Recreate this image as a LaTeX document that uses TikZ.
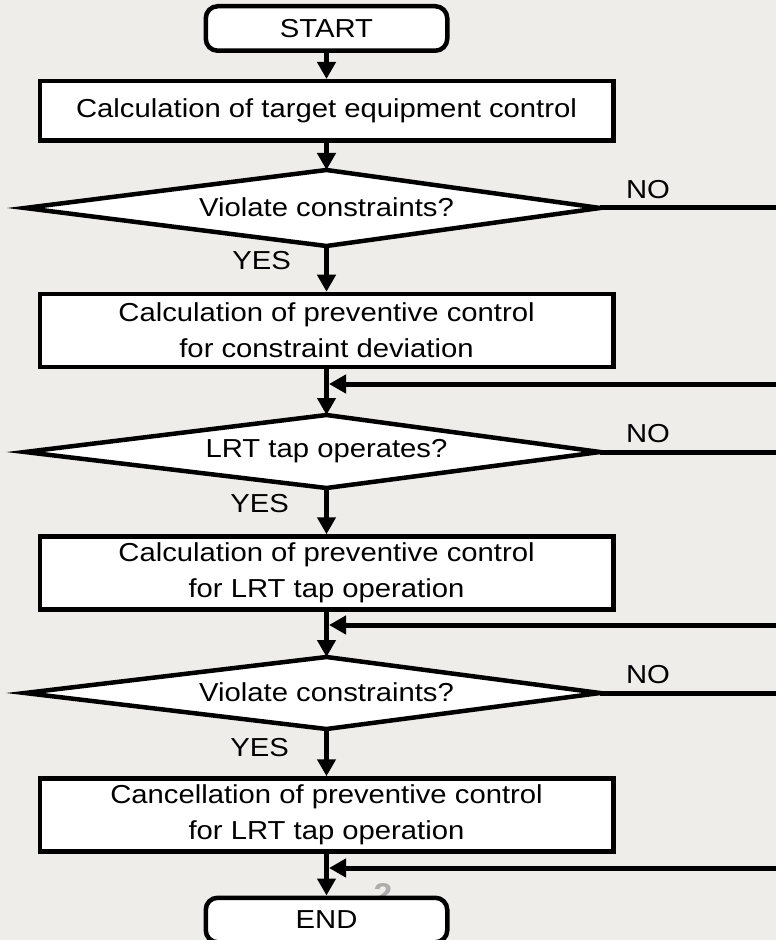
\documentclass[tikz,border=0pt]{standalone}
\usepackage{fontspec}
\setmainfont{Liberation Sans}[FakeStretch=1.125]
\usetikzlibrary{arrows.meta}
\definecolor{bggray}{RGB}{238,237,234}
\definecolor{pagegray}{RGB}{172,172,172}

\begin{document}
\begin{tikzpicture}[x=0.5pt, y=-0.5pt,
    font=\fontsize{13}{18}\selectfont,
    terminal/.style={draw, fill=white, line width=2.25pt, rounded corners=6pt,
        minimum width=120.75pt, minimum height=22.25pt, inner sep=0pt},
    process/.style={draw, fill=white, line width=2.25pt, align=center,
        minimum width=286.75pt, minimum height=36.5pt, inner sep=0pt},
    decision/.style={draw, fill=white, line width=2.25pt},
    flow/.style={line width=2.5pt, -{Triangle[length=8.5pt, width=9pt]}},
    exit/.style={line width=2.5pt}]

    \useasboundingbox (0,0) rectangle (776,940);
    \fill[bggray] (0,0) rectangle (776,940);

    % start and first calculation
    \node[terminal] (start) at (326.5,28.5) {START};
    \node[process, minimum height=29.75pt] (target) at (326.5,111) {Calculation of target equipment control};

    % first check
    \coordinate (d1n) at (326.5,170);
    \coordinate (d1s) at (326.5,246);
    \coordinate (d1w) at (25,208);
    \coordinate (d1e) at (600,208);
    \draw[decision] (d1n) -- (d1e) -- (d1s) -- (d1w) -- cycle;
    \node (check1) at (326.5,207) {Violate constraints?};

    \node[process] (deviation) at (326.5,330.5) {Calculation of preventive control\\for constraint deviation};

    % LRT tap check
    \coordinate (d2n) at (326.5,415);
    \coordinate (d2s) at (326.5,488);
    \coordinate (d2w) at (25,452);
    \coordinate (d2e) at (600,452);
    \draw[decision] (d2n) -- (d2e) -- (d2s) -- (d2w) -- cycle;
    \node (check2) at (326.5,451) {LRT tap operates?};

    \node[process] (tapop) at (326.5,573) {Calculation of preventive control\\for LRT tap operation};

    % second check
    \coordinate (d3n) at (326.5,657);
    \coordinate (d3s) at (326.5,729);
    \coordinate (d3w) at (25,693);
    \coordinate (d3e) at (600,693);
    \draw[decision] (d3n) -- (d3e) -- (d3s) -- (d3w) -- cycle;
    \node (check3) at (326.5,692) {Violate constraints?};

    \node[process] (cancel) at (326.5,815) {Cancellation of preventive control\\for LRT tap operation};

    \node[pagegray, anchor=base, font=\fontsize{15}{18}\bfseries\selectfont] (pagenum) at (383,904.5) {2};
    \node[terminal] (stop) at (326.5,920) {END};

    % main flow
    \draw[flow] (start) -- (target);
    \draw[flow] (target) -- (d1n);
    \draw[flow] (d1s) -- (deviation);
    \draw[flow] (deviation) -- (d2n);
    \draw[flow] (d2s) -- (tapop);
    \draw[flow] (tapop) -- (d3n);
    \draw[flow] (d3s) -- (cancel);
    \draw[flow] (cancel) -- (stop);

    % NO branches leave to the right
    \coordinate (n1) at (776,208);
    \coordinate (n2) at (776,452);
    \coordinate (n3) at (776,693);
    \draw[exit] (d1e) -- (n1);
    \draw[exit] (d2e) -- (n2);
    \draw[exit] (d3e) -- (n3);

    % and come back in
    \coordinate (r1) at (776,384);
    \coordinate (r2) at (776,625);
    \coordinate (r3) at (776,868);
    \coordinate (m1) at (329,384);
    \coordinate (m2) at (329,625);
    \coordinate (m3) at (329,868);
    \draw[flow] (r1) -- (m1);
    \draw[flow] (r2) -- (m2);
    \draw[flow] (r3) -- (m3);

    % labels
    \node[anchor=base east] (yes1) at (298,270) {YES};
    \node[anchor=base east] (yes2) at (296,512) {YES};
    \node[anchor=base east] (yes3) at (296,756) {YES};
    \node[anchor=base west] (no1) at (619,199) {NO};
    \node[anchor=base west] (no2) at (619,442) {NO};
    \node[anchor=base west] (no3) at (619,683) {NO};

\end{tikzpicture}
\end{document}
